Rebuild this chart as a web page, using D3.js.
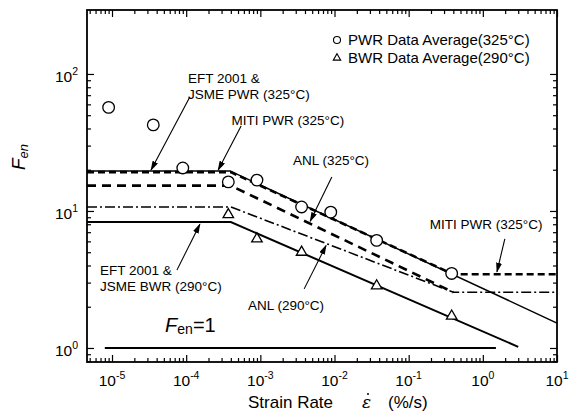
<!DOCTYPE html>
<html>
<head>
<meta charset="utf-8">
<script src="https://cdn.jsdelivr.net/npm/d3@7"></script>
<style>
    html, body { margin: 0; padding: 0; background: #fff; }
    svg { display: block; font-family: 'Liberation Sans', Arial, sans-serif; }
</style>
</head>
<body>
<div id="chart"></div>
<script>
// ——— Data (strain rate in %/s, Fen) ———
const pwrRate = [9e-6, 3.6e-5, 9e-5, 3.7e-4, 9e-4, 3.6e-3, 8.9e-3, 0.037, 0.38];
const pwrFen  = [57, 42.5, 20.6, 16.3, 16.8, 10.7, 9.8, 6.1, 3.5];
const bwrRate = [3.7e-4, 9e-4, 3.6e-3, 0.037, 0.38];
const bwrFen  = [9.4, 6.25, 5.0, 2.84, 1.71];

const eftPwrRate = [4.6e-6, 3.9e-4, 10];
const eftPwrFen  = [19.6, 19.6, 1.52];
const mitiRate   = [4.6e-6, 4e-4, 0.4, 10];
const mitiFen    = [19.2, 19.2, 3.45, 3.45];
const anl325Rate = [4.6e-6, 4e-4, 0.4];
const anl325Fen  = [15.3, 15.3, 2.55];
const anl290Rate = [4.6e-6, 4e-4, 0.4, 10];
const anl290Fen  = [10.7, 10.7, 2.55, 2.55];
const eftBwrRate = [4.6e-6, 4e-4, 3];
const eftBwrFen  = [8.3, 8.3, 1.02];
const unityRate  = [8e-6, 1.5];
const unityFen   = [1, 1];

const xMajor = [1e-5, 1e-4, 1e-3, 1e-2, 1e-1, 1e0, 1e1];
const xExp   = ['-5', '-4', '-3', '-2', '-1', '0', '1'];
const yMajor = [1, 10, 100];
const yExp   = ['0', '1', '2'];

// annotation labels: [rate, Fen] of first baseline, lines
const noteText = [
    { at: [1.06e-4, 86], lines: ['EFT 2001 &', 'JSME PWR (325°C)'] },
    { at: [4.1e-4, 42.5], lines: ['MITI PWR (325°C)'] },
    { at: [2.75e-3, 21.7], lines: ['ANL (325°C)'] },
    { at: [0.193, 7.4], lines: ['MITI PWR (325°C)'] },
    { at: [6.9e-6, 3.41], lines: ['EFT 2001 &', 'JSME BWR (290°C)'] },
    { at: [6.8e-4, 1.89], lines: ['ANL (290°C)'] }
];
// arrows: from [rate, Fen] to [rate, Fen]
const noteArrows = [
    [[1.12e-4, 68], [3.36e-5, 19.9]],
    [[5.5e-4, 41.7], [2.7e-4, 19.9]],
    [[9.2e-3, 17.7], [4.7e-3, 8.4]],
    [[1.98, 6.25], [1.55, 3.6]],
    [[7.5e-5, 3.7], [1.53e-4, 8.0]],
    [[3.9e-3, 2.7], [7.7e-3, 5.6]]
];

(() => {
    const W = 571, H = 417;
    const left = 87, right = 557, top = 10, bottom = 362;

    const svg = d3.select('#chart').append('svg')
        .attr('width', W).attr('height', H);

    const x = d3.scaleLog().domain([4.6e-6, 10]).range([left, right]);
    const y = d3.scaleLog().domain([0.79, 293]).range([bottom, top]);

    // ——— Arrow marker ———
    svg.append('defs').append('marker')
        .attr('id', 'head')
        .attr('markerUnits', 'userSpaceOnUse')
        .attr('markerWidth', 10).attr('markerHeight', 6)
        .attr('refX', 9).attr('refY', 3)
        .attr('orient', 'auto')
        .append('path')
        .attr('d', 'M0,0 L10,3 L0,6 Z')
        .attr('fill', '#000');

    // ——— Ticks (inward, all four sides) ———
    const minor = [];
    for (let e = -6; e <= 1; e++) {
        for (let m = 2; m <= 9; m++) minor.push(m * Math.pow(10, e));
    }
    const xMinor = minor.filter(v => v > 4.6e-6 && v < 10);
    const yMinor = minor.filter(v => v > 0.79 && v < 293);

    function addAxis(axisFn, scale, vals, size, tx, ty) {
        const g = svg.append('g')
            .attr('transform', `translate(${tx},${ty})`)
            .call(axisFn(scale).tickValues(vals).tickSize(size).tickFormat(''));
        g.select('.domain').remove();
        g.selectAll('line').attr('stroke', '#000').attr('stroke-width', 1.2);
    }
    addAxis(d3.axisBottom, x, xMajor, -7, 0, bottom);
    addAxis(d3.axisBottom, x, xMinor, -4, 0, bottom);
    addAxis(d3.axisTop, x, xMajor, -7, 0, top);
    addAxis(d3.axisTop, x, xMinor, -4, 0, top);
    addAxis(d3.axisLeft, y, yMajor, -7, left, 0);
    addAxis(d3.axisLeft, y, yMinor, -4, left, 0);
    addAxis(d3.axisRight, y, yMajor, -7, right, 0);
    addAxis(d3.axisRight, y, yMinor, -4, right, 0);

    // ——— Tick labels ———
    const xl = svg.append('g').selectAll('text')
        .data(xMajor)
        .join('text')
        .attr('x', d => x(d))
        .attr('y', bottom + 24)
        .attr('text-anchor', 'middle')
        .attr('font-size', 15.5);
    xl.append('tspan').text('10');
    xl.append('tspan').attr('font-size', 10.5).attr('dy', -7).text((d, i) => xExp[i]);

    const yl = svg.append('g').selectAll('text')
        .data(yMajor)
        .join('text')
        .attr('x', 78)
        .attr('y', d => y(d) + 8)
        .attr('text-anchor', 'end')
        .attr('font-size', 15.5);
    yl.append('tspan').text('10');
    yl.append('tspan').attr('font-size', 10.5).attr('dy', -7).text((d, i) => yExp[i]);

    // ——— Axis titles ———
    const yt = svg.append('text')
        .attr('transform', 'translate(25,157) rotate(-90)')
        .attr('text-anchor', 'middle')
        .attr('font-size', 19)
        .attr('font-style', 'italic');
    yt.append('tspan').text('F');
    yt.append('tspan').attr('font-size', 13).attr('dy', 3).text('en');

    const xt = svg.append('text')
        .attr('x', 248).attr('y', 408)
        .attr('font-size', 17);
    xt.append('tspan').text('Strain Rate');
    xt.append('tspan').attr('x', 362).attr('font-family', 'DejaVu Serif, serif')
        .attr('font-style', 'italic').text('ε');
    xt.append('tspan').attr('x', 388).text('(%/s)');
    svg.append('circle').attr('cx', 368).attr('cy', 394).attr('r', 1).attr('fill', '#000');

    // ——— Curves ———
    const line = d3.line().x(d => x(d[0])).y(d => y(d[1]));
    const curves = [
        { r: mitiRate, f: mitiFen, w: 2.6, dash: '7,4' },
        { r: eftPwrRate, f: eftPwrFen, w: 1.5, dash: null },
        { r: anl325Rate, f: anl325Fen, w: 2.6, dash: '9,6' },
        { r: anl290Rate, f: anl290Fen, w: 1.6, dash: '10,3,2,3' },
        { r: eftBwrRate, f: eftBwrFen, w: 2, dash: null },
        { r: unityRate, f: unityFen, w: 2, dash: null }
    ];
    svg.append('g').selectAll('path')
        .data(curves)
        .join('path')
        .attr('d', c => line(c.r.map((v, i) => [v, c.f[i]])))
        .attr('fill', 'none')
        .attr('stroke', '#000')
        .attr('stroke-width', c => c.w)
        .attr('stroke-dasharray', c => c.dash);

    // ——— Data points ———
    svg.append('g').selectAll('circle')
        .data(pwrRate.map((v, i) => [v, pwrFen[i]]))
        .join('circle')
        .attr('cx', d => x(d[0]))
        .attr('cy', d => y(d[1]))
        .attr('r', 5.8)
        .attr('fill', '#fff')
        .attr('stroke', '#000')
        .attr('stroke-width', 1.3);

    const tri = d3.symbol().type(d3.symbolTriangle).size(48);
    svg.append('g').selectAll('path')
        .data(bwrRate.map((v, i) => [v, bwrFen[i]]))
        .join('path')
        .attr('transform', d => `translate(${x(d[0])},${y(d[1])})`)
        .attr('d', tri)
        .attr('fill', '#fff')
        .attr('stroke', '#000')
        .attr('stroke-width', 1.3);

    // ——— Annotations ———
    svg.append('g').selectAll('line')
        .data(noteArrows)
        .join('line')
        .attr('x1', d => x(d[0][0])).attr('y1', d => y(d[0][1]))
        .attr('x2', d => x(d[1][0])).attr('y2', d => y(d[1][1]))
        .attr('stroke', '#000')
        .attr('stroke-width', 1.1)
        .attr('marker-end', 'url(#head)');

    const notes = svg.append('g').selectAll('text')
        .data(noteText)
        .join('text')
        .attr('font-size', 13.5)
        .attr('x', d => x(d.at[0]))
        .attr('y', d => y(d.at[1]));
    notes.selectAll('tspan')
        .data(d => d.lines.map(t => ({ t, x0: x(d.at[0]) })))
        .join('tspan')
        .attr('x', d => d.x0)
        .attr('dy', (d, i) => i ? 16 : 0)
        .text(d => d.t);

    const one = svg.append('text')
        .attr('x', x(5.2e-5)).attr('y', y(1.31))
        .attr('font-size', 20);
    one.append('tspan').attr('font-style', 'italic').text('F');
    one.append('tspan').attr('font-size', 14).attr('dy', 2).text('en');
    one.append('tspan').attr('dy', -2).text('=1');

    // ——— Legend ———
    const legend = svg.append('g').attr('font-size', 15);
    legend.append('circle').attr('cx', 337).attr('cy', 40).attr('r', 3.5)
        .attr('fill', '#fff').attr('stroke', '#000').attr('stroke-width', 1.1);
    legend.append('path').attr('transform', 'translate(337,58)')
        .attr('d', d3.symbol().type(d3.symbolTriangle).size(24))
        .attr('fill', '#fff').attr('stroke', '#000').attr('stroke-width', 1.1);
    legend.append('text').attr('x', 348).attr('y', 45).text('PWR Data Average(325°C)');
    legend.append('text').attr('x', 348).attr('y', 63).text('BWR Data Average(290°C)');

    // ——— Frame ———
    svg.append('rect')
        .attr('x', left).attr('y', top)
        .attr('width', right - left).attr('height', bottom - top)
        .attr('fill', 'none')
        .attr('stroke', '#000')
        .attr('stroke-width', 1.8);
})();
</script>
</body>
</html>
